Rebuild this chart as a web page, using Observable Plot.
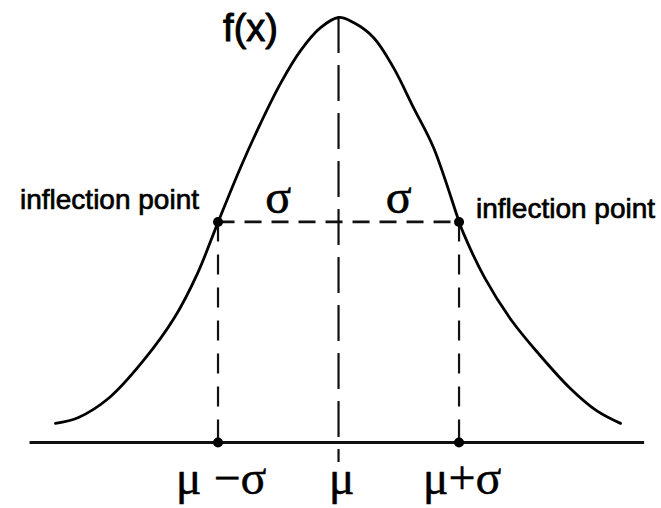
<!DOCTYPE html>
<html>
<head>
<meta charset="utf-8">
<script src="https://cdn.jsdelivr.net/npm/d3@7"></script>
<script src="https://cdn.jsdelivr.net/npm/@observablehq/plot@0.6"></script>
<style>
  html, body { margin: 0; padding: 0; background: #fff; }
  #chart svg { display: block; }
</style>
</head>
<body>
<div id="chart"></div>
<script>
// Curve: x in σ units from μ, y relative to the peak height
const curveX = [-2.349, -2.158, -1.900, -1.618, -1.361, -1.170, -1.000, -0.813, -0.647, -0.481, -0.315, -0.149, 0.000,
                0.124, 0.290, 0.456, 0.622, 0.788, 1.000, 1.037, 1.212, 1.436, 1.660, 1.917, 2.141, 2.340];
const curveY = [0.045, 0.059, 0.106, 0.193, 0.294, 0.398, 0.518, 0.647, 0.751, 0.845, 0.922, 0.976, 1.000,
                0.988, 0.953, 0.882, 0.788, 0.694, 0.520, 0.492, 0.388, 0.287, 0.209, 0.129, 0.075, 0.045];

const inflectionX = [-1, 1];
const inflectionY = 0.519;
const peakY = 1.0;
const axisExtent = [-2.56, 2.54];
const axisDrop = -0.047;

const tickValues = [-1, 0, 1];
const tickLabels = ["μ −σ", "μ", "μ+σ"];
const sigmaX = [-0.5, 0.5];
const sigmaLabels = ["σ", "σ"];
const inflectionLabels = ["inflection point", "inflection point"];
const fLabel = "f(x)";

const curve = curveX.map((x, i) => ({x, y: curveY[i]}));
const sans = "Liberation Sans, Arial, Helvetica, sans-serif";
const serif = "Liberation Serif, Times New Roman, serif";

const chart = Plot.plot({
  width: 661,
  height: 508,
  margin: 0,
  style: {background: "#fff"},
  x: {domain: [-2.805, 2.680], axis: null},
  y: {domain: [-0.1553, 1.04], axis: null},
  marks: [
    // baseline axis
    Plot.ruleY([0], {x1: axisExtent[0], x2: axisExtent[1], stroke: "#111", strokeWidth: 3}),
    // centre dashed line (μ)
    Plot.ruleX([0], {y1: peakY, y2: axisDrop, stroke: "#111", strokeWidth: 2.2, strokeDasharray: "36,12"}),
    // vertical dashed lines at μ±σ
    Plot.ruleX(inflectionX, {y1: inflectionY, y2: 0, stroke: "#111", strokeWidth: 2.2, strokeDasharray: "20,13"}),
    // horizontal dashed line between inflection points
    Plot.ruleY([inflectionY], {x1: inflectionX[0], x2: inflectionX[1], stroke: "#111", strokeWidth: 2.6, strokeDasharray: "17,10"}),
    // the curve
    Plot.line(curve, {x: "x", y: "y", curve: "catmull-rom", stroke: "#000", strokeWidth: 2.8}),
    // dots
    Plot.dot(inflectionX, {x: d => d, y: inflectionY, r: 5, fill: "#000"}),
    Plot.dot(tickValues.filter(d => d !== 0), {x: d => d, y: 0, r: 5, fill: "#000"}),
    // labels
    Plot.text(tickValues, {x: d => d, y: 0, text: (d, i) => tickLabels[i], dy: 36, dx: 3, fontSize: 48, fontFamily: serif, fill: "#000", stroke: "#000", strokeWidth: 0.4}),
    Plot.text(sigmaX, {x: d => d, y: inflectionY, text: (d, i) => sigmaLabels[i], dy: -24, fontSize: 48, fontFamily: serif, fill: "#000", stroke: "#000", strokeWidth: 0.6}),
    Plot.text([inflectionX[0]], {x: d => d, y: inflectionY, text: [inflectionLabels[0]], textAnchor: "end", dx: -19, dy: -22, fontSize: 28, fontFamily: sans, fill: "#000", stroke: "#000", strokeWidth: 0.7}),
    Plot.text([inflectionX[1]], {x: d => d, y: inflectionY, text: [inflectionLabels[1]], textAnchor: "start", dx: 17, dy: -13, fontSize: 28, fontFamily: sans, fill: "#000", stroke: "#000", strokeWidth: 0.7}),
    Plot.text([0], {x: d => d, y: peakY, text: [fLabel], dx: -88, dy: 11, fontSize: 38, fontFamily: sans, fill: "#000", stroke: "#000", strokeWidth: 1})
  ]
});
document.getElementById("chart").append(chart);
</script>
</body>
</html>
